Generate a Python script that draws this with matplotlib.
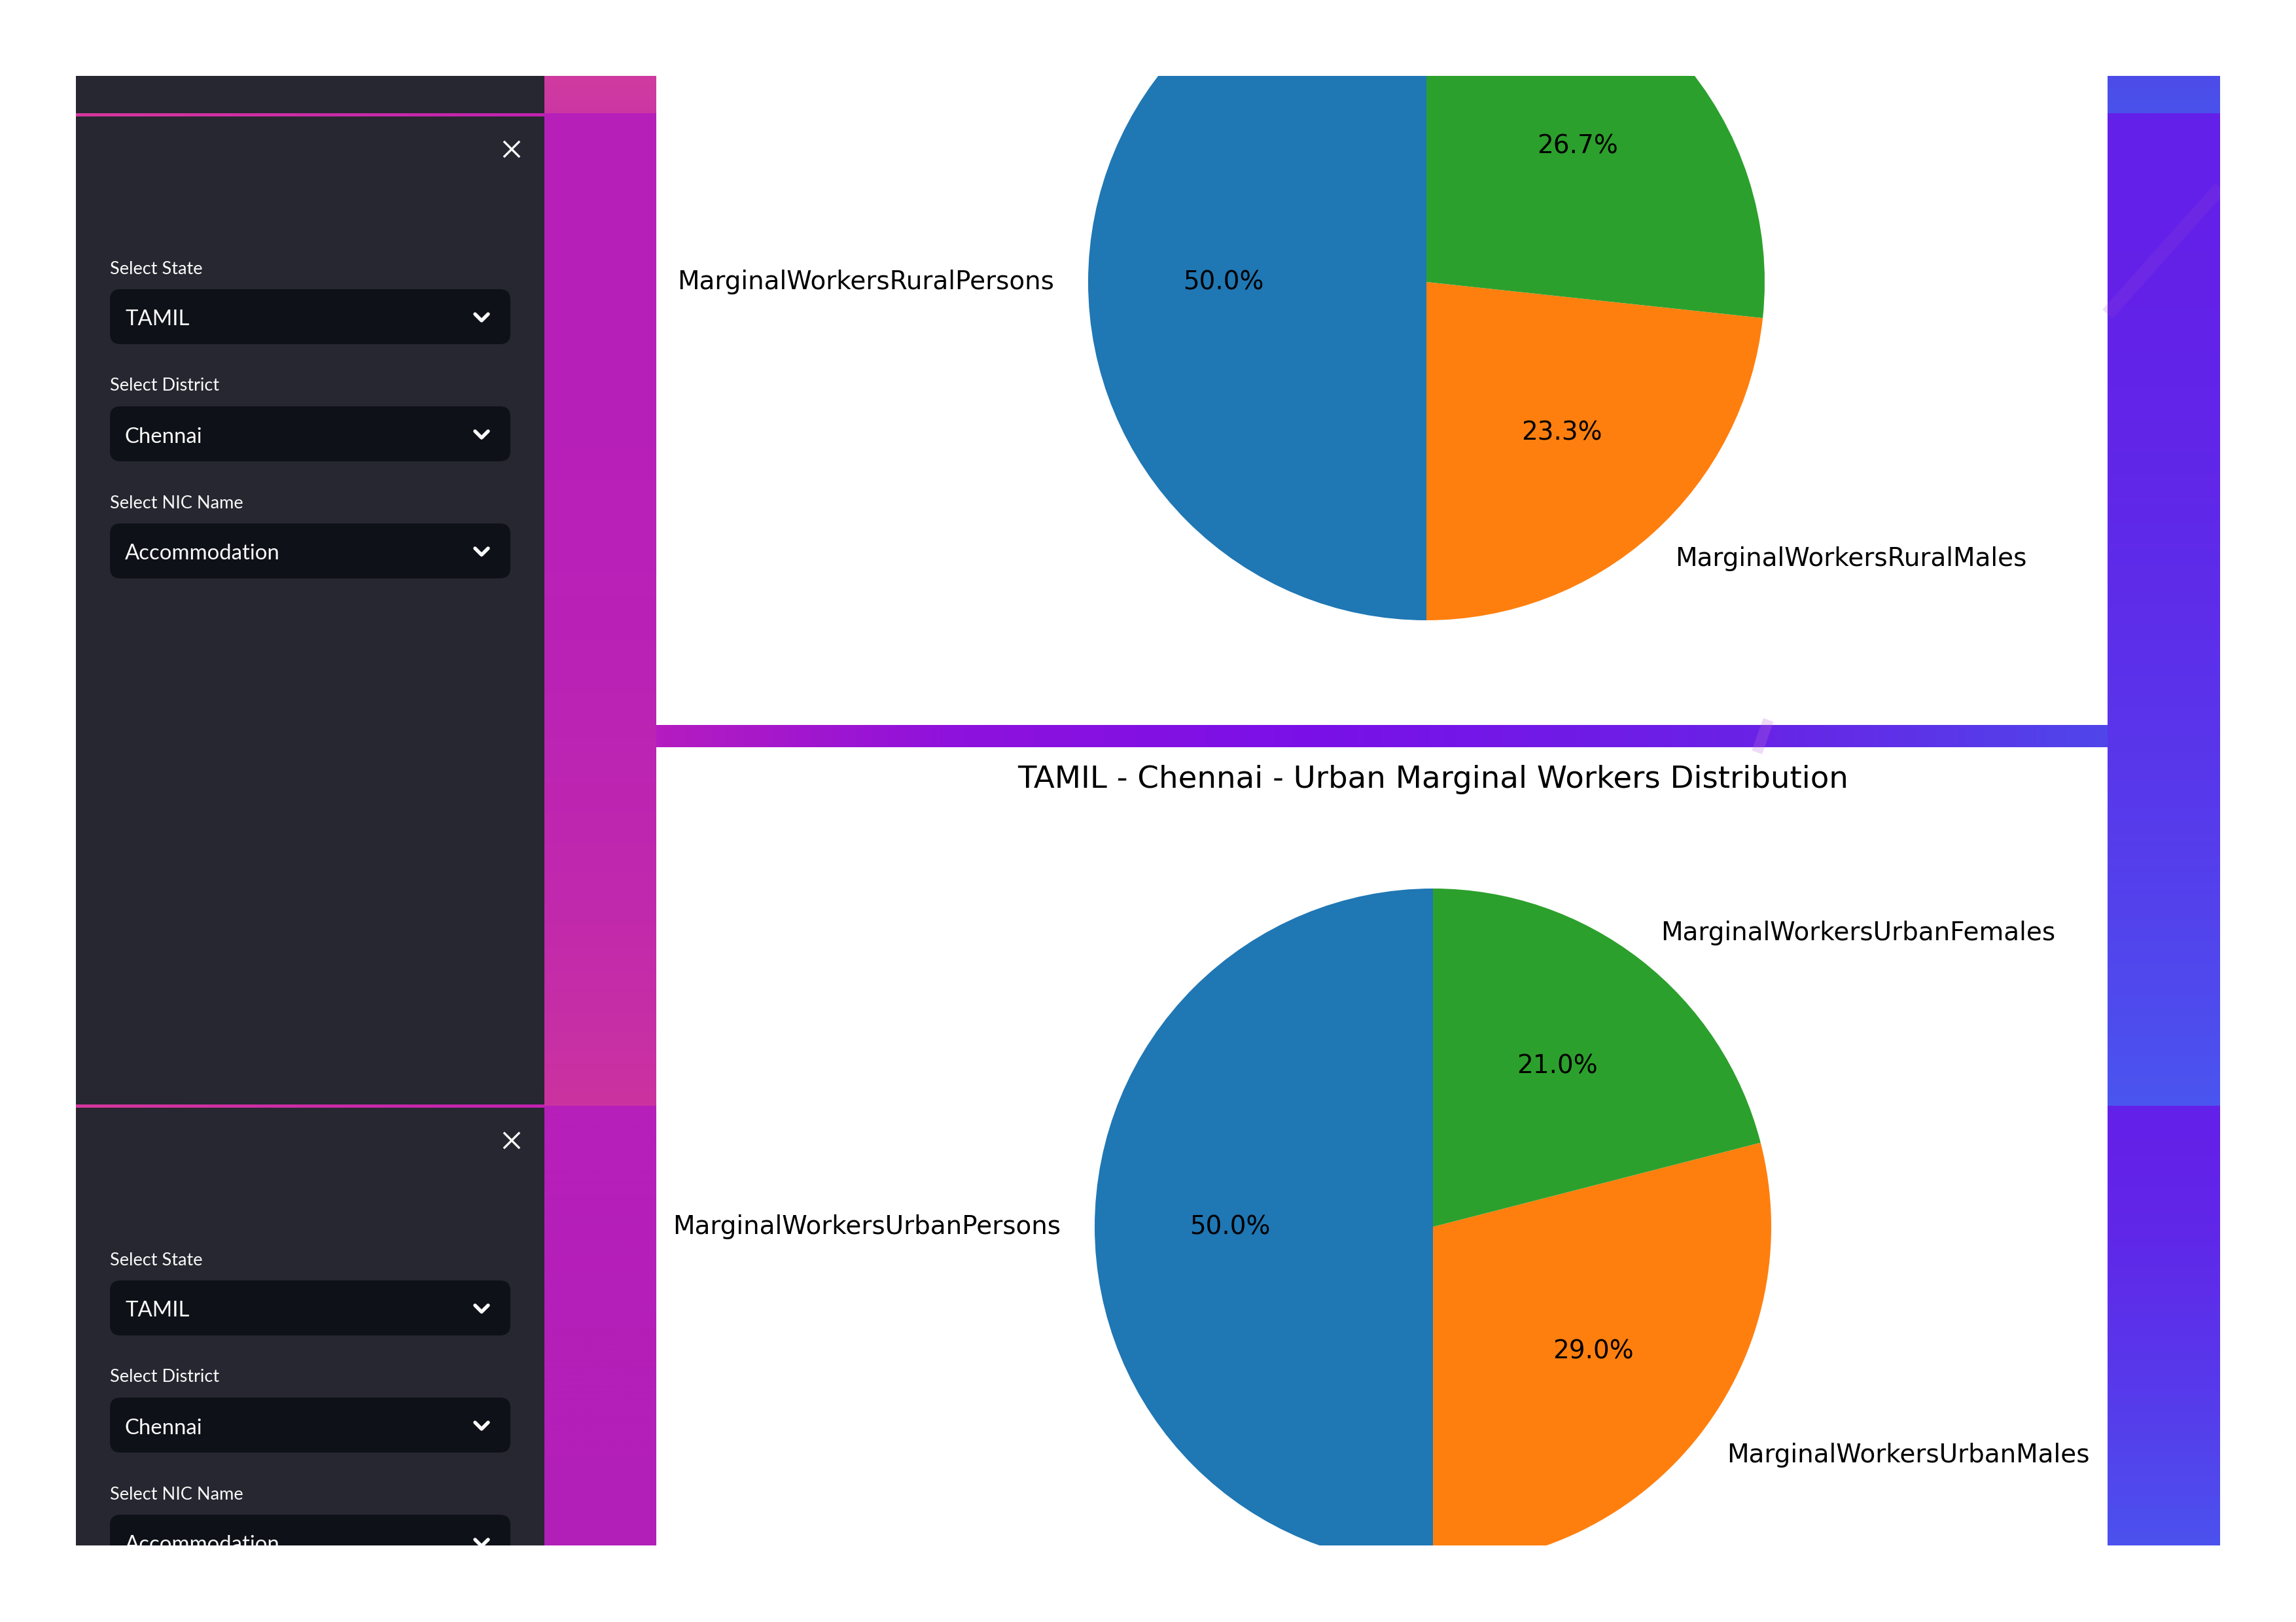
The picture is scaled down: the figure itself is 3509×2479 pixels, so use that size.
import numpy as np
import matplotlib.pyplot as plt
from matplotlib.colors import to_rgb
from matplotlib.patches import Rectangle, FancyBboxPatch

# values
state = 'TAMIL'
district = 'Chennai'
nic_name = 'Accommodation'
filter_labels = ['Select State', 'Select District', 'Select NIC Name']
filter_values = [state, district, nic_name]

rural_labels = ['MarginalWorkersRuralPersons', 'MarginalWorkersRuralMales', 'MarginalWorkersRuralFemales']
rural_share = [50.0, 23.3, 26.7]
urban_labels = ['MarginalWorkersUrbanPersons', 'MarginalWorkersUrbanMales', 'MarginalWorkersUrbanFemales']
urban_share = [50.0, 29.0, 21.0]
urban_title = 'TAMIL - Chennai - Urban Marginal Workers Distribution'

W, H = 3509, 2479
fig = plt.figure(figsize=(W / 300, H / 300), dpi=300)
fig.patch.set_facecolor('white')

# background axes in pixel coordinates (y down)
bg = fig.add_axes([0, 0, 1, 1])
bg.set_xlim(0, W)
bg.set_ylim(H, 0)
bg.axis('off')


def rect(x0, y0, x1, y1, color, z=1):
    bg.add_patch(Rectangle((x0, y0), x1 - x0, y1 - y0, facecolor=color, edgecolor='none', zorder=z))


def vgrad(x0, x1, y0, y1, c_top, c_bot, power=1.0, z=1):
    t = np.linspace(0, 1, 256) ** power
    a, b = np.array(to_rgb(c_top)), np.array(to_rgb(c_bot))
    img = (a[None, :] * (1 - t[:, None]) + b[None, :] * t[:, None])[:, None, :]
    bg.imshow(img, extent=(x0, x1, y1, y0), origin='upper', aspect='auto',
              interpolation='bilinear', zorder=z)


def hgrad(x0, x1, y0, y1, stops, z=1):
    xs = np.linspace(0, 1, 512)
    pos = [s[0] for s in stops]
    cols = np.array([to_rgb(s[1]) for s in stops])
    img = np.stack([np.interp(xs, pos, cols[:, k]) for k in range(3)], axis=-1)[None, :, :]
    bg.imshow(img, extent=(x0, x1, y1, y0), origin='upper', aspect='auto',
              interpolation='bilinear', zorder=z)


# sidebar
rect(116, 116, 832, 2362, '#262730')
for yl in (173, 1688):
    hgrad(116, 832, yl, yl + 5, [(0, '#d5379c'), (1, '#c022b0')], z=2)

# left magenta strip
vgrad(832, 1003, 116, 173, '#d03ba0', '#cc36a3')
vgrad(832, 1003, 173, 1690, '#b71fba', '#cb33a0', power=3)
vgrad(832, 1003, 1690, 2362, '#b71fba', '#b21fb8')

# right violet strip
vgrad(3221, 3393, 116, 173, '#4d4ce8', '#4a52ec')
vgrad(3221, 3393, 173, 1690, '#6420e8', '#4a55ef', power=2)
vgrad(3221, 3393, 1690, 2362, '#6420e8', '#4b52ee', power=1.5)
bg.plot([3393, 3221], [287, 480], color='#9a48d8', lw=5, alpha=0.18, zorder=3,
        solid_capstyle='butt')

# separator band between the two chart panels
hgrad(1003, 3221, 1108, 1142, [(0, '#b51cc0'), (0.2, '#8f12dc'), (0.45, '#7a10e8'),
                               (0.75, '#6a22e6'), (1, '#4f46ea')])
bg.plot([2700, 2688], [1108, 1142], color='#c070d8', lw=4, alpha=0.25, zorder=3)

# sidebar widgets (second copy is shifted down by 1515 px)
label_base = [419, 597, 777]
box_top = [442, 621, 800]
value_base = [497, 677, 855]


def draw_sidebar(dy):
    xc, yc = 782, 228 + dy
    s = 11
    bg.plot([xc - s, xc + s], [yc - s, yc + s], color='#fafafa', lw=0.8, zorder=5)
    bg.plot([xc - s, xc + s], [yc + s, yc - s], color='#fafafa', lw=0.8, zorder=5)
    for lab, val, lb, bt, vb in zip(filter_labels, filter_values, label_base, box_top, value_base):
        bg.text(168, lb + dy, lab, color='#fafafa', fontsize=6.5, family='Lato',
                va='baseline', ha='left', zorder=5)
        bg.add_patch(FancyBboxPatch((168, bt + dy), 612, 84,
                                    boxstyle='round,pad=0,rounding_size=16',
                                    facecolor='#0e1117', edgecolor='none', zorder=4))
        bg.text(191, vb + dy, val, color='#fafafa', fontsize=7.9, family='Lato',
                va='baseline', ha='left', zorder=5)
        cy = bt + dy + 43
        bg.plot([726, 736, 746], [cy - 5, cy + 5, cy - 5], color='#fafafa', lw=1.3,
                zorder=5, solid_capstyle='round', solid_joinstyle='round')


draw_sidebar(0)
draw_sidebar(1515)

# white margins cover anything spilling past the screenshot edges
rect(0, 0, W, 116, 'white', z=50)
rect(0, 2362, W, H, 'white', z=50)
rect(0, 0, 116, H, 'white', z=50)
rect(3393, 0, W, H, 'white', z=50)


def pie_panel(px0, py0, px1, py1, cx, cy, r, labels, shares):
    ax = fig.add_axes([px0 / W, 1 - py1 / H, (px1 - px0) / W, (py1 - py0) / H])
    wedges, texts, autotexts = ax.pie(shares, labels=labels, autopct='%1.1f%%',
                                      startangle=90, textprops={'fontsize': 9.35})
    ax.set_xlim((px0 - cx) / r, (px1 - cx) / r)
    ax.set_ylim((cy - py1) / r, (cy - py0) / r)
    ax.set_aspect('auto')
    ax.axis('off')
    for art in list(wedges) + list(texts) + list(autotexts):
        art.set_clip_on(True)
        art.set_clip_box(ax.bbox)
    return ax


pie_panel(1003, 116, 3221, 1108, 2180, 431, 517, rural_labels, rural_share)
ax_u = pie_panel(1003, 1142, 3221, 2362, 2190, 1875, 517, urban_labels, urban_share)
ax_u.text(0, 683 / 517, urban_title, ha='center', va='center', fontsize=11.2)

fig.savefig('out.png', dpi=300)
